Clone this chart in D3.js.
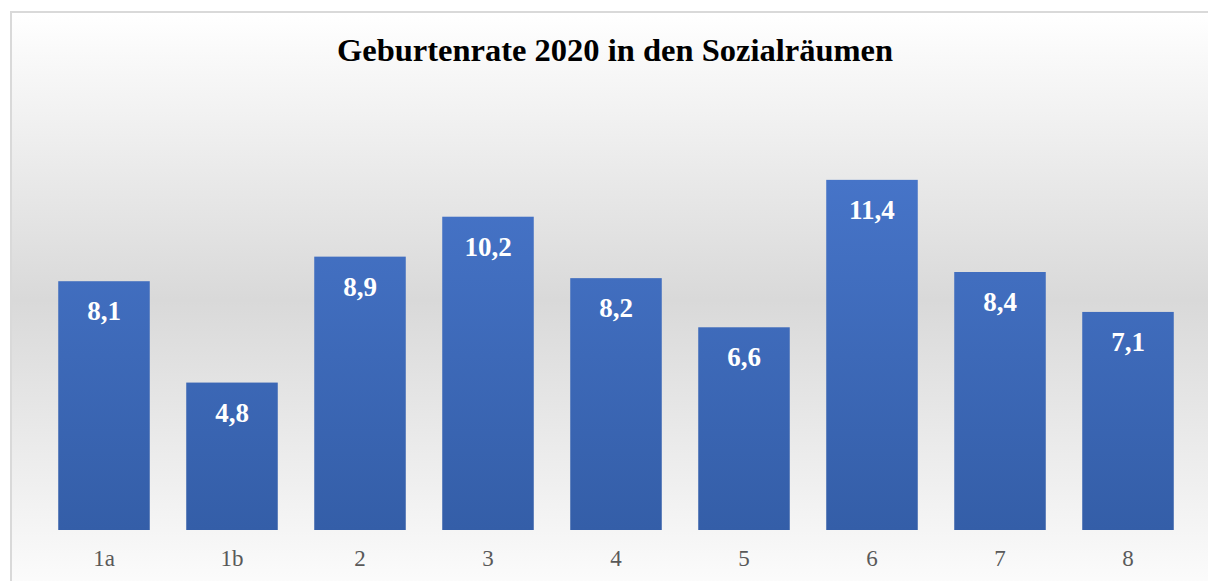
<!DOCTYPE html>
<html>
<head>
<meta charset="utf-8">
<script src="https://cdn.jsdelivr.net/npm/d3@7"></script>
<style>
  html, body { margin: 0; padding: 0; background: #fff; }
  svg { display: block; }
</style>
</head>
<body>
<div id="vis"></div>
<script>
// Sozialräume und Geburtenrate 2020
var categories = ['1a', '1b', '2', '3', '4', '5', '6', '7', '8'];
var values = [8.1, 4.8, 8.9, 10.2, 8.2, 6.6, 11.4, 8.4, 7.1];
var title = 'Geburtenrate 2020 in den Sozialräumen';

var width = 1208;
var height = 581;
var serif = '"Liberation Serif", "DejaVu Serif", serif';

var svg = d3.select('#vis').append('svg')
  .attr('width', width)
  .attr('height', height);

var defs = svg.append('defs');

// hintergrund: weiss -> grau -> weiss
var bg = defs.append('linearGradient')
  .attr('id', 'bg').attr('x1', 0).attr('y1', 0).attr('x2', 0).attr('y2', 1);
bg.append('stop').attr('offset', '0%').attr('stop-color', '#ffffff');
bg.append('stop').attr('offset', '48%').attr('stop-color', '#d9d9d9');
bg.append('stop').attr('offset', '100%').attr('stop-color', '#ffffff');

var barGrad = defs.append('linearGradient')
  .attr('id', 'bar')
  .attr('gradientUnits', 'userSpaceOnUse')
  .attr('x1', 0).attr('x2', 0)
  .attr('y1', 180).attr('y2', 530);
barGrad.append('stop').attr('offset', '0%').attr('stop-color', '#4674c8');
barGrad.append('stop').attr('offset', '100%').attr('stop-color', '#345ea8');

// rahmen
svg.append('rect')
  .attr('x', 11).attr('y', 12)
  .attr('width', 1220).attr('height', 600)
  .attr('fill', 'url(#bg)')
  .attr('stroke', '#d9d9d9')
  .attr('stroke-width', 2);

var x = d3.scaleBand()
  .domain(categories)
  .range([40, 1192])
  .paddingInner(0.285)
  .paddingOuter(0.1425);

var y = d3.scaleLinear()
  .domain([0, 14])
  .range([530, 100]);

svg.append('text')
  .attr('x', 615)
  .attr('y', 61)
  .attr('text-anchor', 'middle')
  .attr('font-family', serif)
  .attr('font-weight', 'bold')
  .attr('font-size', 32.5)
  .attr('fill', '#000')
  .text(title);

var data = categories.map(function (c, i) { return { cat: c, value: values[i] }; });

svg.selectAll('.bar')
  .data(data)
  .enter().append('rect')
  .attr('class', 'bar')
  .attr('x', function (d) { return x(d.cat); })
  .attr('y', function (d) { return y(d.value); })
  .attr('width', x.bandwidth())
  .attr('height', function (d) { return y(0) - y(d.value); })
  .attr('fill', 'url(#bar)');

svg.selectAll('.label')
  .data(data)
  .enter().append('text')
  .attr('class', 'label')
  .attr('x', function (d) { return x(d.cat) + x.bandwidth() / 2; })
  .attr('y', function (d) { return y(d.value) + 39; })
  .attr('text-anchor', 'middle')
  .attr('font-family', serif)
  .attr('font-weight', 'bold')
  .attr('font-size', 27)
  .attr('fill', '#fff')
  .text(function (d) { return String(d.value).replace('.', ','); });

// x-achse ohne linie
var xAxis = svg.append('g')
  .attr('transform', 'translate(0,530)')
  .call(d3.axisBottom(x).tickSize(0).tickPadding(20));
xAxis.select('.domain').remove();
xAxis.selectAll('text')
  .attr('font-family', serif)
  .attr('font-size', 23)
  .attr('fill', '#595959');
</script>
</body>
</html>
